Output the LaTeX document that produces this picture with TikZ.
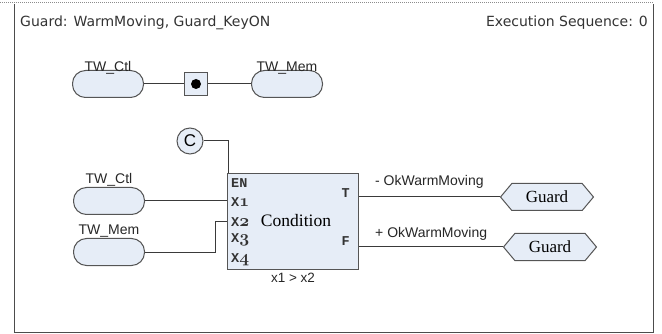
\documentclass[tikz,border=0pt]{standalone}
\usepackage{fontspec}
\setmainfont{Liberation Serif}
\setsansfont{Liberation Sans}
\setmonofont{Liberation Mono}
\newfontfamily\titlefont{DejaVu Sans}
\usetikzlibrary{shapes.symbols,shapes.misc}
\definecolor{fillc}{HTML}{E6EDF7}
\definecolor{linec}{HTML}{3A3A3A}
\definecolor{edgec}{HTML}{555555}
\newcommand{\osn}[1]{{\fontencoding{OML}\fontfamily{cmm}\fontseries{b}\fontshape{it}\fontsize{17}{17}\selectfont #1}}
\tikzset{
  pill/.style={draw=edgec, fill=fillc, rounded corners=13pt, minimum width=71pt, minimum height=27pt, line width=1pt, inner sep=0pt},
  lbl/.style={font=\sffamily\fontsize{14}{14}\selectfont, inner sep=0pt, text=black!85},
  ttl/.style={font=\titlefont\fontsize{14}{14}\selectfont, inner sep=0pt, text=black!80},
  pin/.style={font=\ttfamily\bfseries\fontsize{13.5}{13.5}\selectfont, inner sep=0pt, text=black!80},
  wire/.style={draw=linec, line width=1pt},
  hexa/.style={signal, signal from=nowhere, signal to=east and west, signal pointer angle=100, draw=edgec, fill=fillc, line width=1pt, minimum width=93pt, minimum height=27pt, font=\rmfamily\fontsize{17}{17}\selectfont, inner sep=0pt}
}
\begin{document}
\begin{tikzpicture}[x=1pt,y=-1pt]
\useasboundingbox (0,0) rectangle (662,334);
% frame
\draw[black!45, line width=1pt, densely dotted] (0,3) -- (653,3);
\draw[black!70, line width=1pt] (14,4) -- (14,332) -- (653,332) -- (653,4);
% title
\node[ttl, anchor=base west] (title) at (20,27) {Guard: WarmMoving, Guard\_KeyON};
\node[ttl, anchor=base east] (seq) at (648,27) {Execution Sequence: 0};
% top row
\node[pill] (ctl1) at (108,84) {};
\node[lbl, anchor=base] (ctl1l) at (108,72) {TW\_Ctl};
\node[draw=edgec, fill=fillc, line width=1pt, minimum size=23pt, inner sep=0pt] (sq) at (196,84) {};
\node[circle, fill=black, minimum size=10pt, inner sep=0pt] (dot) at (sq.center) {};
\node[pill] (mem1) at (287,84) {};
\node[lbl, anchor=base] (mem1l) at (287,72) {TW\_Mem};
\draw[wire] (ctl1) -- (sq);
\draw[wire] (sq) -- (mem1);
% condition block
\node[circle, draw=edgec, fill=fillc, line width=1pt, minimum size=26pt, inner sep=0pt, font=\sffamily\fontsize{17}{17}\selectfont] (c) at (190,141) {C};
\node[draw=edgec, fill=fillc, line width=1pt, minimum width=131pt, minimum height=96pt, anchor=north west, inner sep=0pt] (blk) at (227,173) {};
\draw[wire] (c) -| ([xshift=1pt]blk.north west);
\node[pin, anchor=base west] (en) at (231,188) {EN};
\node[pin, anchor=base west] (x1) at (231,207) {X\osn{1}};
\node[pin, anchor=base west] (x2) at (231,226) {X\osn{2}};
\node[pin, anchor=base west] (x3) at (231,243) {X\osn{3}};
\node[pin, anchor=base west] (x4) at (231,262) {X\osn{4}};
\node[font=\rmfamily\fontsize{17.5}{17.5}\selectfont, inner sep=0pt, anchor=base] (cond) at (296,227) {Condition};
\node[pin, anchor=base east] (t) at (350,198) {T};
\node[pin, anchor=base east] (f) at (350,246) {F};
\node[lbl, font=\sffamily\fontsize{13.5}{13.5}\selectfont, anchor=base] (expr) at (293,283) {x1 > x2};
% left inputs
\node[pill] (ctl2) at (109,201) {};
\node[lbl, anchor=base] (ctl2l) at (109,184) {TW\_Ctl};
\node[pill] (mem2) at (109,252) {};
\node[lbl, anchor=base] (mem2l) at (109,235) {TW\_Mem};
\draw[wire] (ctl2.east) -- (ctl2.east -| blk.west);
\draw[wire] (mem2.east) -- ++(70,0) |- (blk.west);
% outputs
\node[hexa] (g1) at (547,197) {Guard};
\node[hexa] (g2) at (550,247) {Guard};
\draw[wire] (blk.east |- g1.west) -- (g1.west);
\draw[wire] (blk.east |- g2.west) -- (g2.west);
\node[lbl, anchor=base west] (ok1) at (375,186) {- OkWarmMoving};
\node[lbl, anchor=base west] (ok2) at (375,237) {+ OkWarmMoving};
\end{tikzpicture}
\end{document}
